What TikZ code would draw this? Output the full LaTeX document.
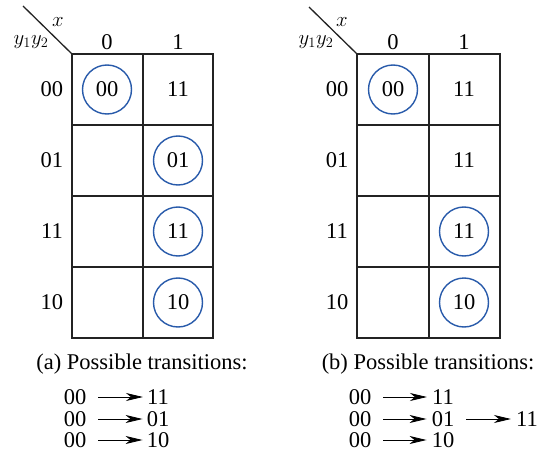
\documentclass[tikz,border=0pt]{standalone}
\usepackage{fontspec}
\setmainfont{LiberationSerif}[Extension=.ttf, UprightFont=*-Regular, ItalicFont=*-Italic, BoldFont=*-Bold]
\usepackage{tikz}
\usetikzlibrary{arrows.meta}
\definecolor{ringblue}{RGB}{40,90,170}
\definecolor{gridgray}{RGB}{35,35,35}

\begin{document}
\begin{tikzpicture}[
    x=1pt, y=-1pt, >={Stealth[length=17pt,width=8pt,inset=5pt]},
    every node/.style={font=\fontsize{22.5}{26}\selectfont},
    ring/.style={circle, draw=ringblue, line width=1.4pt, minimum size=49pt, inner sep=0pt},
    trans/.style={inner sep=0pt},
    gridline/.style={draw=gridgray, line width=1.3pt}
  ]
    \useasboundingbox (0,0) rectangle (539,455);

    % (a) map
    \draw[gridline] (72,54) rectangle (213,338);
    \draw[gridline] (143,54) -- (143,338);
    \foreach \y in {125,196,267}
      \draw[gridline] (72,\y) -- (213,\y);
    \coordinate (lcorner) at (72,54);
    \coordinate (ltip) at (23,6);
    \draw[gridline] (ltip) -- (lcorner);
    \node (lx) at (58,22) {$x$};
    \node (ly) at (31,42) {$y_1y_2$};
    \node (lc0) at (107,42) {0};
    \node (lc1) at (178,42) {1};
    \node (lr00) at (52,89.5) {00};
    \node (lr01) at (52,160.5) {01};
    \node (lr11) at (52,231.5) {11};
    \node (lr10) at (52,302.5) {10};
    \node[ring] (l00a) at (107,89.5) {00};
    \node (l00b) at (178,89.5) {11};
    \node[ring] (l01b) at (178,160.5) {01};
    \node[ring] (l11b) at (178,231.5) {11};
    \node[ring] (l10b) at (178,302.5) {10};

    % (b) map
    \draw[gridline] (357,54) rectangle (500,338);
    \draw[gridline] (429,54) -- (429,338);
    \foreach \y in {125,196,267}
      \draw[gridline] (357,\y) -- (500,\y);
    \coordinate (rcorner) at (357,54);
    \coordinate (rtip) at (309,7);
    \draw[gridline] (rtip) -- (rcorner);
    \node (rx) at (342,22) {$x$};
    \node (ry) at (316,42) {$y_1y_2$};
    \node (rc0) at (393,42) {0};
    \node (rc1) at (464,42) {1};
    \node (rr00) at (337,89.5) {00};
    \node (rr01) at (337,160.5) {01};
    \node (rr11) at (337,231.5) {11};
    \node (rr10) at (337,302.5) {10};
    \node[ring] (r00a) at (393,89.5) {00};
    \node (r00b) at (464,89.5) {11};
    \node (r01b) at (464,160.5) {11};
    \node[ring] (r11b) at (464,231.5) {11};
    \node[ring] (r10b) at (464,302.5) {10};

    % captions
    \node (capa) at (142,364) {(a) Possible transitions:};
    \node (capb) at (428,364) {(b) Possible transitions:};

    % transitions (a)
    \node[trans] (a1s) at (75,397) {00};
    \node[trans] (a1t) at (158,397) {11};
    \node[trans] (a2s) at (75,419) {00};
    \node[trans] (a2t) at (158,419) {01};
    \node[trans] (a3s) at (75,440) {00};
    \node[trans] (a3t) at (158,440) {10};
    \draw[->, thick, shorten <=12pt, shorten >=4pt] (a1s) -- (a1t);
    \draw[->, thick, shorten <=12pt, shorten >=4pt] (a2s) -- (a2t);
    \draw[->, thick, shorten <=12pt, shorten >=4pt] (a3s) -- (a3t);

    % transitions (b)
    \node[trans] (b1s) at (360,397) {00};
    \node[trans] (b1t) at (443,397) {11};
    \node[trans] (b2s) at (360,419) {00};
    \node[trans] (b2t) at (443,419) {01};
    \node[trans] (b2u) at (527,419) {11};
    \node[trans] (b3s) at (360,440) {00};
    \node[trans] (b3t) at (443,440) {10};
    \draw[->, thick, shorten <=12pt, shorten >=5pt] (b1s) -- (b1t);
    \draw[->, thick, shorten <=12pt, shorten >=5pt] (b2s) -- (b2t);
    \draw[->, thick, shorten <=12pt, shorten >=5pt] (b2t) -- (b2u);
    \draw[->, thick, shorten <=12pt, shorten >=5pt] (b3s) -- (b3t);
  \end{tikzpicture}
\end{document}
